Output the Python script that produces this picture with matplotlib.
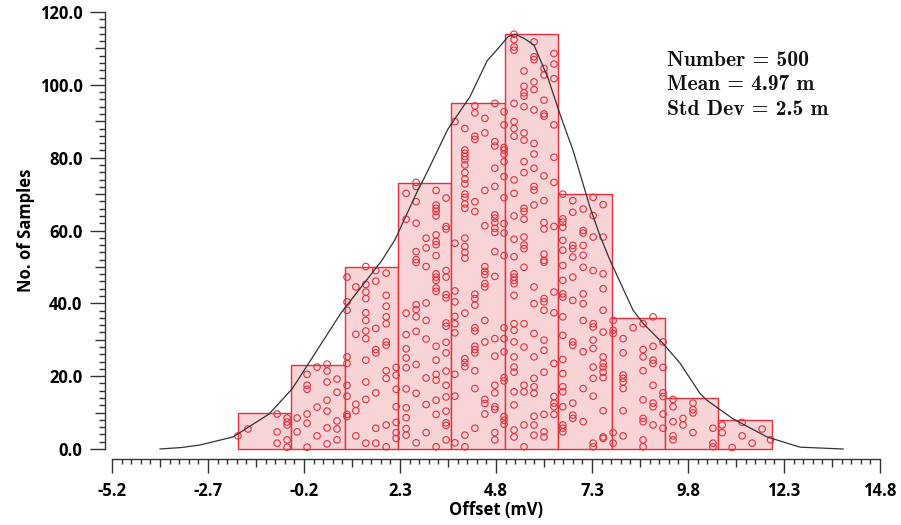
import os
import numpy as np
import matplotlib
matplotlib.use('Agg')
import matplotlib.pyplot as plt
from matplotlib.ticker import FixedLocator, FuncFormatter
from matplotlib.font_manager import FontProperties

# histogram bars
bin_edges = [-1.92, -0.53, 0.86, 2.25, 3.64, 5.03, 6.42, 7.81, 9.20, 10.59, 11.98]
bin_counts = [10, 23, 50, 73, 95, 114, 70, 36, 14, 8]

# the fitted curve, read point by point
curve_x = [-3.95, -3.40, -2.91, -2.05, -1.11, -0.51, -0.02, 0.76, 1.83, 2.17, 2.74, 2.95,
           3.55, 4.12, 4.57, 4.93, 5.11, 5.30, 5.54, 5.79, 6.15, 6.49, 6.81, 7.25, 7.51,
           7.77, 8.37, 8.63, 9.15, 9.59, 10.11, 10.29, 10.97, 11.86, 12.72, 13.84]
curve_y = [0.0, 0.4, 1.1, 3.3, 9.6, 16.5, 24.5, 37.3, 51.8, 57.5, 70.5, 74.8,
           87.9, 96.7, 106.6, 110.9, 113.2, 113.9, 112.7, 110.9, 102.0, 91.2, 81.9, 66.3, 58.5,
           51.8, 38.1, 34.5, 29.0, 23.6, 15.3, 13.4, 8.3, 3.3, 0.5, 0.0]

# sample dots: one x per column, and the heights of the dots in that column
dot_x = [-1.92, -1.66, -0.90, -0.64,
         -0.38, -0.12, 0.14, 0.40, 0.66,
         0.92, 1.15, 1.41, 1.67, 1.94, 2.20,
         2.46, 2.72, 2.98, 3.24, 3.50,
         3.73, 3.99, 4.25, 4.51, 4.77, 5.01,
         5.27, 5.53, 5.79, 6.05, 6.31,
         6.54, 6.80, 7.07, 7.33, 7.59,
         7.85, 8.11, 8.37, 8.63, 8.89, 9.15,
         9.41, 9.67, 9.93, 10.45,
         10.69, 10.95, 11.21, 11.47, 11.73, 11.95]
dot_y = [
    [3.6], [5.5], [9.6, 4.7, 1.6], [8.5, 7.4, 6.6, 2.5, 0.5],
    [8.5, 4.7], [20.5, 17.5, 16.4, 9.6, 7.1, 0.5], [22.5, 11.5, 3.6],
    [23.3, 21.4, 18.4, 13.4, 10.4, 5.8, 1.4], [19.2, 15.6, 7.7, 5.5, 2.5],
    [47.2, 40.4, 38.1, 25.3, 23.5, 17.5, 14.5, 9.5, 8.9],
    [44.5, 31.5, 12.3, 10.5, 3.6],
    [50.1, 45.2, 43.1, 41.3, 37.4, 35.3, 32.4, 30.3, 24.4, 18.4, 13.6, 1.6],
    [49.0, 46.1, 33.1, 27.3, 26.4, 15.4, 5.7, 1.6],
    [48.3, 42.2, 39.2, 36.3, 34.4, 29.4, 28.5, 21.5, 19.4, 6.6, 0.6],
    [22.4, 20.3, 16.4, 11.6, 7.3, 4.5, 2.9],
    [70.2, 63.1, 37.3, 31.4, 27.5, 25.0, 22.3, 16.5, 11.3, 8.6, 5.6, 3.8],
    [73.2, 72.1, 67.9, 62.0, 54.2, 52.0, 51.2, 39.6, 38.3, 36.3, 32.3, 23.2, 15.3, 1.7],
    [57.9, 55.2, 50.1, 40.1, 35.3, 30.2, 19.5, 12.2, 4.5],
    [71.0, 67.0, 66.1, 65.2, 64.0, 58.8, 57.0, 56.1, 53.1, 48.1, 47.2, 46.3, 44.2, 43.3,
     28.2, 24.4, 20.5, 18.9, 13.4, 9.5, 0.6],
    [68.9, 61.1, 60.4, 49.0, 47.2, 42.4, 41.5, 34.6, 33.7, 29.3, 26.4, 21.4, 17.5, 14.3,
     10.4, 7.2, 6.5, 2.5],
    [89.9, 56.5, 43.4, 40.4, 36.4, 34.4, 31.9, 20.5, 14.5, 1.7],
    [88.0, 82.1, 81.2, 80.3, 79.4, 78.0, 75.9, 74.1, 72.8, 70.0, 69.1, 67.3, 66.1, 57.9,
     55.6, 54.0, 52.4, 37.3, 24.8, 23.7, 22.6, 3.8, 0.6],
    [94.2, 92.3, 85.9, 85.0, 67.9, 65.2, 42.5, 41.3, 39.5, 33.3, 32.4, 28.2, 27.3, 26.4,
     21.5, 16.6, 5.7],
    [90.8, 86.8, 71.0, 61.3, 50.1, 48.8, 47.9, 45.4, 44.5, 35.3, 29.4, 13.6, 12.5, 9.6],
    [94.9, 84.4, 83.2, 77.1, 72.1, 64.3, 63.4, 62.2, 60.6, 59.5, 54.2, 47.4, 30.3, 25.5,
     17.5, 15.4, 11.6, 10.9, 4.5, 2.5],
    [92.6, 89.0, 82.8, 82.1, 81.0, 78.9, 74.8, 69.0, 61.9, 59.3, 53.1, 33.3, 30.3, 26.7,
     19.6, 18.7, 8.9, 7.9, 6.8],
    [113.9, 112.4, 110.4, 109.5, 94.9, 89.9, 88.0, 85.9, 73.9, 70.2, 64.0, 57.6, 52.8, 48.1,
     47.2, 46.3, 45.4, 42.2, 34.4, 32.6, 29.4, 25.3, 22.5, 21.1, 15.7, 12.1, 5.2, 3.3],
    [103.8, 99.6, 97.8, 96.9, 94.0, 86.8, 84.8, 78.9, 75.9, 66.1, 65.2, 63.1, 58.2, 56.0,
     55.0, 49.9, 34.4, 28.0, 17.5, 15.7, 6.6, 0.6],
    [111.8, 107.7, 106.9, 100.8, 98.7, 93.1, 83.9, 81.0, 77.1, 72.1, 71.1, 67.0, 44.5, 39.9,
     31.7, 25.3, 19.4, 17.1, 15.3, 9.0, 6.6, 3.8],
    [104.5, 102.7, 95.8, 92.0, 91.4, 75.0, 68.2, 62.2, 60.4, 53.5, 51.8, 51.3, 41.3, 40.4,
     38.1, 29.9, 27.1, 21.1, 9.5, 4.7, 3.3],
    [108.6, 105.7, 101.7, 89.0, 80.1, 73.2, 61.1, 43.1, 37.4, 23.5, 14.4, 12.6, 11.6, 9.5],
    [70.0, 63.2, 62.3, 60.9, 57.3, 54.6, 50.4, 46.3, 42.6, 41.7, 36.3, 31.2, 24.6, 20.7,
     17.1, 15.7, 11.6, 6.6, 5.7, 4.7],
    [68.2, 65.0, 55.9, 55.0, 52.7, 47.2, 40.8, 29.4, 28.5, 12.6, 9.3, 8.4],
    [65.9, 60.0, 59.3, 55.9, 53.2, 49.9, 42.6, 39.9, 35.3, 26.7, 16.6, 7.5],
    [69.1, 64.1, 58.2, 49.0, 34.4, 33.5, 29.9, 27.6, 22.5, 19.4, 14.5, 1.6, 0.6],
    [67.1, 58.2, 48.1, 44.0, 38.1, 32.1, 25.3, 23.5, 22.5, 21.1, 19.6, 10.5, 3.3, 2.9],
    [35.3, 32.6, 31.7, 4.5, 1.6],
    [30.3, 26.4, 20.3, 19.4, 18.4, 16.6, 10.5, 3.6],
    [33.3],
    [34.4, 27.3, 25.3, 21.5, 13.5, 8.4, 7.5, 2.5, 0.6],
    [36.3, 28.2, 24.4, 23.5, 17.5, 12.6, 11.6, 6.6],
    [29.4, 22.4, 15.4, 14.4, 9.6, 5.7],
    [13.6, 11.6, 7.5, 3.6, 2.5], [8.4, 6.6], [12.6, 10.8, 9.9, 4.5], [5.7, 1.6, 0.6],
    [6.6, 4.5], [0.4], [7.3, 3.6], [1.6], [5.5], [2.5],
]

stats_lines = ['Number = 500', 'Mean = 4.97 m', 'Std Dev = 2.5 m']
x_labels = [-5.2, -2.7, -0.2, 2.3, 4.8, 7.3, 9.8, 12.3, 14.8]
y_labels = [0, 20, 40, 60, 80, 100, 120]

plt.rcParams['font.family'] = ['Open Sans', 'DejaVu Sans']
plt.rcParams['font.weight'] = 'bold'

# bold computer modern that ships with matplotlib, for the stats box
cm_bold = os.path.join(matplotlib.get_data_path(), 'fonts', 'ttf', 'cmb10.ttf')
stats_font = FontProperties(fname=cm_bold, size=15.5)

W, H = 901, 525
fig = plt.figure(figsize=(W / 100, H / 100), dpi=100)
ax = fig.add_axes([112 / W, 1 - 449 / H, (880 - 112) / W, (449 - 12) / H])

red = '#e3303b'
ax.bar(bin_edges[:-1], bin_counts, width=np.diff(bin_edges), align='edge',
       color='#f9d4d7', edgecolor=red, linewidth=1.0, clip_on=False, zorder=2)

px, py = [], []
for x, ys in zip(dot_x, dot_y):
    px += [x] * len(ys)
    py += ys
ax.scatter(px, py, s=22, facecolors='none', edgecolors=red, linewidths=0.8,
           clip_on=False, zorder=3)

ax.plot(curve_x, curve_y, color='#333333', lw=0.9, clip_on=False, zorder=4)

ax.set_xlim(-5.2, 14.8)
ax.set_ylim(0, 120)

for s in ['top', 'right']:
    ax.spines[s].set_visible(False)
ax.spines['left'].set_position(('outward', 4.8))
ax.spines['bottom'].set_position(('outward', 7.3))
for s in ['left', 'bottom']:
    ax.spines[s].set_color('#333333')
    ax.spines[s].set_linewidth(1.0)

# ticks: long ones labelled, mid ones halfway, small minor ones
ax.xaxis.set_major_locator(FixedLocator(np.arange(-5.2, 14.81, 1.25)))
ax.xaxis.set_minor_locator(FixedLocator(np.arange(-5.2, 14.81, 0.25)))
ax.xaxis.set_major_formatter(FuncFormatter(
    lambda v, p: f'{v:.1f}' if min(abs(v - l) for l in x_labels) < 1e-6 else ''))
ax.yaxis.set_major_locator(FixedLocator(np.arange(0, 121, 10)))
ax.yaxis.set_minor_locator(FixedLocator(np.arange(0, 121, 2)))
ax.yaxis.set_major_formatter(FuncFormatter(
    lambda v, p: f'{v:.1f}' if round(v) in y_labels else ''))

ax.tick_params(which='both', direction='out', color='#333333', width=1.0)
ax.tick_params(which='major', labelsize=12)
ax.tick_params(axis='x', which='major', pad=13)
ax.tick_params(axis='y', which='major', pad=13)
ax.tick_params(axis='x', which='minor', length=3.5)
ax.tick_params(axis='y', which='minor', length=4)
for i, t in enumerate(ax.xaxis.get_major_ticks()):
    t.tick1line.set_markersize(10 if i % 2 == 0 else 6)
for i, t in enumerate(ax.yaxis.get_major_ticks()):
    t.tick1line.set_markersize(11 if i % 2 == 0 else 7)

ax.set_xlabel('Offset (mV)', fontsize=12, fontweight='bold', labelpad=1)
ax.set_ylabel('No. of Samples', fontsize=12, fontweight='bold', labelpad=3)

for i, line in enumerate(stats_lines):
    fig.text(667 / W, 1 - (66 + 24.5 * i) / H, line, fontproperties=stats_font,
             va='baseline', ha='left', color='#111111')

fig.savefig('out.png', dpi=100)
